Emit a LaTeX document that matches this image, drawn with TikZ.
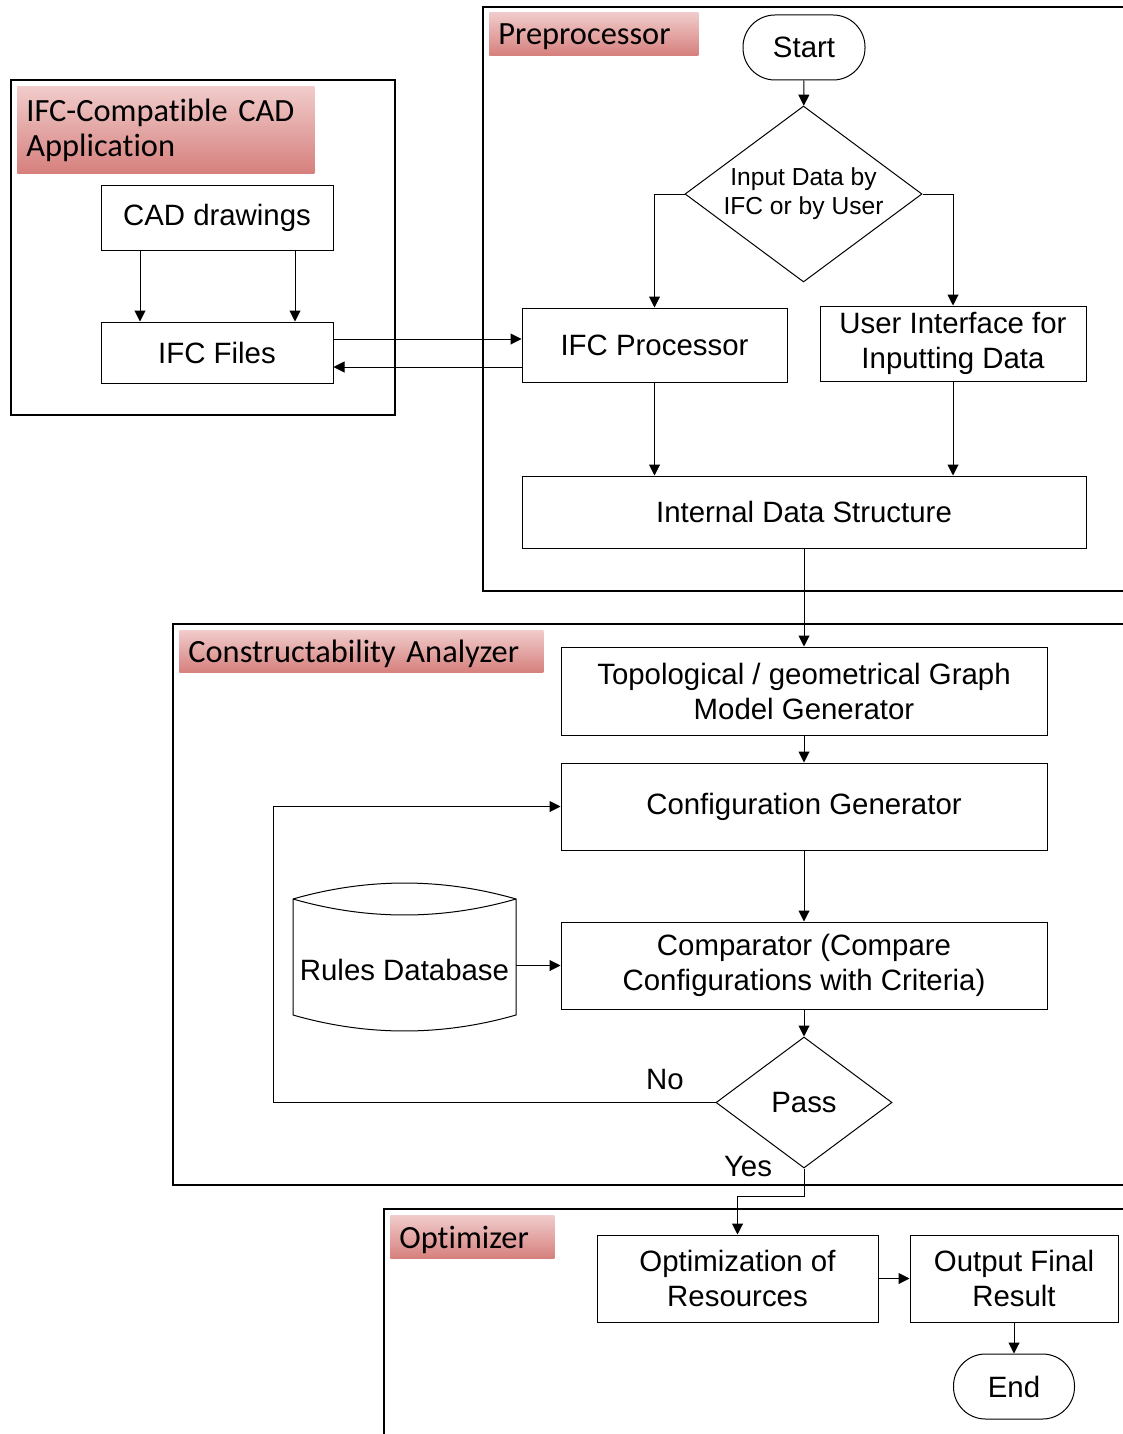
\documentclass[tikz,border=0pt]{standalone}
\usepackage{fontspec}
\setmainfont{Liberation Sans}
\newfontfamily\labfont[Ligatures=NoCommon]{Carlito}
\usetikzlibrary{shapes.geometric,arrows.meta}
\definecolor{labtop}{RGB}{240,204,203}
\definecolor{labbot}{RGB}{214,128,125}
\begin{document}
\begin{tikzpicture}[x=0.5pt,y=-0.5pt,
 box/.style={draw, line width=0.5pt, inner sep=0pt, align=center, font=\fontsize{14.7}{17.5}\selectfont},
 term/.style={box, rounded corners=16pt},
 dia/.style={draw, line width=0.5pt, shape=diamond, inner sep=0pt, aspect=1.35, align=center},
 arr/.style={line width=0.5pt, -{Triangle[length=5.5pt,width=5.5pt]}},
 ln/.style={line width=0.5pt},
 cont/.style={line width=0.85pt},
 lab/.style={top color=labtop, bottom color=labbot, inner xsep=4.5pt, inner ysep=0pt, anchor=north west, align=left, font=\labfont\fontsize{16.2}{17.5}\selectfont},
 labone/.style={lab, text depth=0pt},
 txt/.style={inner sep=0pt, font=\fontsize{14.7}{17.5}\selectfont}
]
\useasboundingbox (0,0) rectangle (1123,1434);
\clip (0,0) rectangle (1123,1434);

% containers
\draw[cont] (483,7) rectangle (1140,591);
\draw[cont] (11,80) rectangle (395,415);
\draw[cont] (173,624) rectangle (1140,1185);
\draw[cont] (384,1209) rectangle (1140,1450);

% labels
\node[labone, minimum height=21.5pt, text width=95.5pt] (prelab) at (489,12) {Preprocessor};
\node[lab, minimum height=43.5pt, text width=139.5pt] (ifclab) at (17,86) {IFC-Compatible CAD\\Application};
\node[labone, minimum height=21pt, text width=173pt] (conlab) at (179,630) {Constructability Analyzer};
\node[labone, minimum height=21.5pt, text width=73pt] (optlab) at (390,1215) {Optimizer};

% nodes
\node[term, minimum width=61pt, minimum height=32.5pt] (start) at (804,47.5) {Start};
\node[dia, minimum width=118.5pt, minimum height=88pt, font=\fontsize{12.3}{14.5}\selectfont] (d1) at (803.5,194) {Input Data by\\IFC or by User};
\node[box, minimum width=132.5pt, minimum height=37pt] (ifcp) at (654.5,345) {IFC Processor};
\node[box, minimum width=133pt, minimum height=37.5pt] (ui) at (953,343.5) {User Interface for\\Inputting Data};
\node[box, minimum width=282pt, minimum height=36pt] (ids) at (804,512) {Internal Data Structure};
\node[box, minimum width=116pt, minimum height=32.5pt] (cad) at (217,217.5) {CAD drawings};
\node[box, minimum width=116pt, minimum height=30.5pt] (ifcf) at (217,352.5) {IFC Files};
\node[box, minimum width=243pt, minimum height=44pt] (topo) at (804,691) {Topological / geometrical Graph\\Model Generator};
\node[box, minimum width=243pt, minimum height=43.5pt] (cfg) at (804,806.5) {Configuration Generator};
\node[box, minimum width=243pt, minimum height=43.5pt] (cmp) at (804,965.5) {Comparator (Compare\\Configurations with Criteria)};
\node[dia, aspect=1.34, minimum width=88pt, minimum height=65.5pt, font=\fontsize{14.7}{17.5}\selectfont] (pass) at (804,1102.5) {Pass};
\node[box, minimum width=140.5pt, minimum height=43.5pt] (opt) at (737.5,1278.5) {Optimization of\\Resources};
\node[box, minimum width=104pt, minimum height=43.5pt] (out) at (1014,1278.5) {Output Final\\Result};
\node[term, minimum width=60.5pt, minimum height=32.5pt] (end) at (1014,1386.5) {End};

% rules database
\draw[ln] (293,899) .. controls (367,877.7) and (442,877.7) .. (516,899) -- (516,1015) .. controls (442,1036.3) and (367,1036.3) .. (293,1015) -- cycle;
\draw[ln] (293,899) .. controls (367,920.3) and (442,920.3) .. (516,899);
\node[txt, minimum width=111.5pt, minimum height=40pt] (rules) at (404.5,970) {Rules Database};

% connectors
\draw[arr] (start) -- (d1);
\draw[arr] (d1.west) -| (ifcp.north);
\draw[arr] (d1.east) -| (ui.north);
\draw[arr] (ifcp) -- (ifcp |- ids.north);
\draw[arr] (ui) -- (ui |- ids.north);
\draw[arr] ([xshift=-38.5pt]cad.south) -- ([xshift=-38.5pt]cad.south |- ifcf.north);
\draw[arr] ([xshift=39pt]cad.south) -- ([xshift=39pt]cad.south |- ifcf.north);
\coordinate (f1) at ([yshift=6.75pt]ifcf.east);
\coordinate (f2) at ([yshift=-7.25pt]ifcf.east);
\draw[arr] (f1) -- (f1 -| ifcp.west);
\draw[arr] (f2 -| ifcp.west) -- (f2);
\draw[arr] (ids) -- (topo);
\draw[arr] (topo) -- (cfg);
\draw[arr] (cfg) -- (cmp);
\draw[arr] (rules.east |- cmp.west) -- (cmp.west);
\draw[arr] (cmp) -- (pass);
\coordinate (nocorner) at (273,1102.5);
\draw[arr] (pass.west) -- (nocorner) |- (cfg.west);
\node[txt] (nolab) at (665,1080) {No};
\coordinate (ybend) at (804,1196);
\draw[arr] (pass.south) -- (ybend) -| (opt.north);
\node[txt] (yeslab) at (748,1167) {Yes};
\draw[arr] (opt) -- (out);
\draw[arr] (out) -- (end);
\end{tikzpicture}
\end{document}
